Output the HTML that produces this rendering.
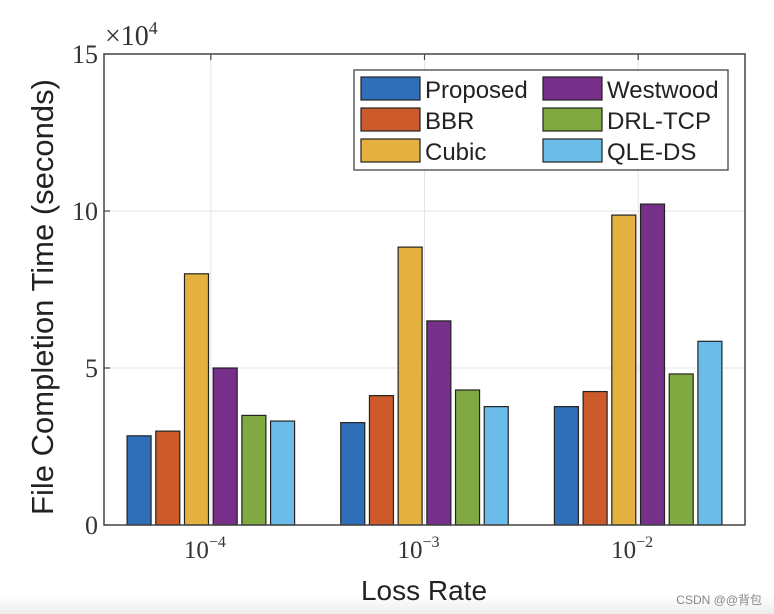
<!DOCTYPE html>
<html><head><meta charset="utf-8"><style>
body{margin:0;background:#fff;width:774px;height:614px;overflow:hidden}
svg{display:block}
</style></head><body>
<svg id="chart" width="774" height="614" xmlns="http://www.w3.org/2000/svg">
<defs><linearGradient id="fade" x1="0" y1="0" x2="0" y2="1"><stop offset="0" stop-color="#fff"/><stop offset="1" stop-color="#ececec"/></linearGradient></defs>
<rect x="0" y="596" width="774" height="18" fill="url(#fade)"/>
<g id="grid"></g>
<g id="bars"></g>
<g id="axes"></g>
<text x="105" y="45" font-family="Liberation Serif, serif" font-size="28" fill="#333">×10<tspan dy="-11" font-size="18">4</tspan></text>
<text transform="translate(53,297) rotate(-90)" text-anchor="middle" font-family="Liberation Sans, sans-serif" font-size="31" fill="#222">File Completion Time (seconds)</text>
<text x="424" y="600" text-anchor="middle" font-family="Liberation Sans, sans-serif" font-size="28" fill="#222">Loss Rate</text>
<text x="762" y="604" text-anchor="end" font-family="Liberation Sans, 'Noto Sans CJK SC', sans-serif" font-size="12" fill="#888">CSDN @@背包</text>
<g id="legend"></g>
</svg>
<script>
const categories = ["-4", "-3", "-2"];
const seriesNames = ["Proposed", "BBR", "Cubic", "Westwood", "DRL-TCP", "QLE-DS"];
const proposed = [2.84, 3.26, 3.77];
const bbr = [2.99, 4.12, 4.25];
const cubic = [8.0, 8.85, 9.87];
const westwood = [5.0, 6.5, 10.22];
const drltcp = [3.49, 4.3, 4.81];
const qleds = [3.31, 3.77, 5.85];
const yTicks = [0, 5, 10, 15];
const colors = ["#2e6fb7", "#cc5a2b", "#e4b040", "#76308a", "#80aa41", "#6bbce9"];
const series = [proposed, bbr, cubic, westwood, drltcp, qleds];
const NS = "http://www.w3.org/2000/svg";
const L = 104, R = 745, T = 54, B = 525;
const yMax = 15;
function yScale(v){ return B - (v / yMax) * (B - T); }
function xScale(i){ return L + (i + 0.5) / categories.length * (R - L); }
const step = 28.7, bw = 24;
function mk(tag, attrs, parent){ const e = document.createElementNS(NS, tag); for (const k in attrs) e.setAttribute(k, attrs[k]); parent.appendChild(e); return e; }
const grid = document.getElementById('grid'), bars = document.getElementById('bars'), axes = document.getElementById('axes'), legend = document.getElementById('legend');
yTicks.forEach(t => {
  const y = yScale(t);
  if (t > 0 && t < yMax) { const g = mk('line', {x1: L, x2: R, y1: y, y2: y, stroke: '#e4e4e4', 'stroke-width': 1}, grid);
    
     }
  const tk = mk('line', {x1: L, x2: L + 6, y1: y, y2: y, stroke: '#444', 'stroke-width': 1.2}, axes);
  
  
  const tx = mk('text', {x: L - 6, y: y + 9, 'text-anchor': 'end', 'font-family': 'Liberation Serif, serif', 'font-size': 26, fill: '#333'}, axes);
  tx.textContent = t;
  
  
});
categories.forEach((c, i) => {
  const x = xScale(i);
  const g = mk('line', {x1: x, x2: x, y1: T, y2: B, stroke: '#e4e4e4', 'stroke-width': 1}, grid);
  
  
  const tk = mk('line', {x1: x, x2: x, y1: T, y2: T + 6, stroke: '#444', 'stroke-width': 1.2}, axes);
  
  
  const tx = mk('text', {x: x - 6, y: 558, 'text-anchor': 'middle', 'font-family': 'Liberation Serif, serif', 'font-size': 25, fill: '#333'}, axes);
  tx.innerHTML = '10<tspan dy="-11" font-size="16">' + c.replace('-', '−') + '</tspan>';
  
  
  series.forEach((s, j) => {
    const bx = x + (j - 2.5) * step - bw / 2;
    const y = yScale(s[i]);
    const r = mk('rect', {x: bx, y: y, width: bw, height: B - y, fill: colors[j], stroke: '#222', 'stroke-width': 1.2}, bars);
    
    
  });
});
const frame = mk('rect', {x: L, y: T, width: R - L, height: B - T, fill: 'none', stroke: '#444', 'stroke-width': 1.5}, axes);


const lb = mk('rect', {x: 354, y: 70, width: 374, height: 100, fill: '#fff', stroke: '#444', 'stroke-width': 1.3}, legend);


seriesNames.forEach((n, j) => {
  const col = Math.floor(j / 3), row = j % 3;
  const sx = col ? 543 : 361, sy = 77 + row * 31;
  const sw = mk('rect', {x: sx, y: sy, width: 59, height: 23, fill: colors[j], stroke: '#222', 'stroke-width': 1.2}, legend);
  
  
  const t = mk('text', {x: sx + 64, y: sy + 21, 'font-family': 'Liberation Sans, sans-serif', 'font-size': 24, fill: '#222'}, legend);
  t.textContent = n;
  
  
});
</script>
</body></html>
